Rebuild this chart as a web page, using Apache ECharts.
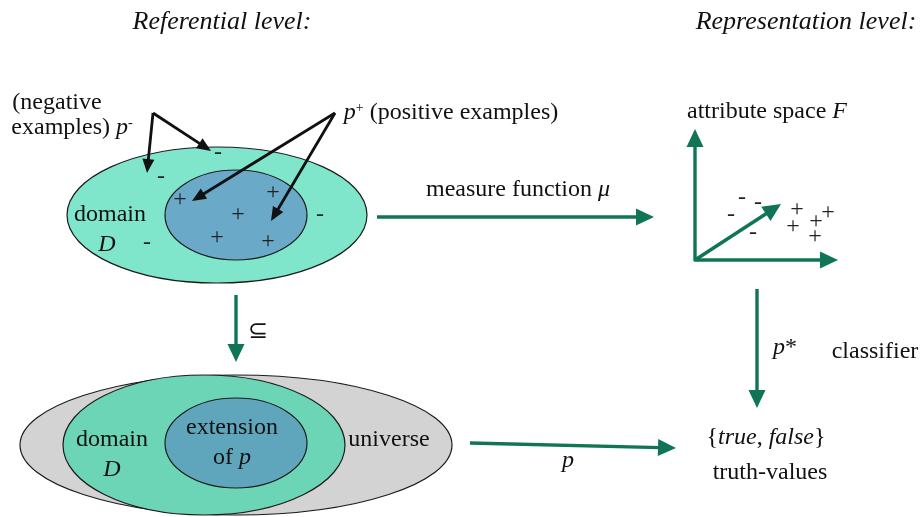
<!DOCTYPE html>
<html>
<head>
<meta charset="utf-8">
<script src="https://cdn.jsdelivr.net/npm/echarts@6/dist/echarts.min.js"></script>
<style>html,body{margin:0;padding:0;background:#fff}#c{width:924px;height:517px}</style>
</head>
<body>
<div id="c"></div>
<script>
// Ellipses: [cx, cy, rx, ry] in diagram units
const ellipses = [
  [217, 215, 150, 68],  // domain D (top)
  [236, 215, 71, 45],   // positive examples (top)
  [236, 445, 216, 70],  // universe
  [204, 445, 141, 70],  // domain D (bottom)
  [236, 443, 71, 45]    // extension of p
];
const ellipseColors = ['#80e6cb', '#6aaac8', '#d3d3d3', '#6cd5b5', '#5fa6bc'];

// Arrows: [x1, y1, x2, y2]
const greenArrows = [
  [377, 217, 654, 217],
  [236, 295, 236, 362],
  [470, 443, 676, 448],
  [757, 289, 757, 408],
  [695, 261, 695, 129],
  [694, 260, 838, 260],
  [695, 260, 781, 204]
];
const blackArrows = [
  [153, 113, 147, 173],
  [153, 113, 211, 151],
  [335, 113, 192, 201],
  [335, 113, 271, 221]
];

// Signs: [x, y, symbol]
const signs = [
  [218, 153, '-'], [161, 177, '-'], [320, 215, '-'], [147, 243, '-'],
  [180, 200, '+'], [273, 193, '+'], [238, 215, '+'], [217, 238, '+'], [268, 242, '+'],
  [742, 198, '-'], [758, 203, '-'], [731, 215, '-'], [753, 233, '-'],
  [797, 210, '+'], [793, 227, '+'], [816, 222, '+'], [828, 213, '+'], [815, 237, '+']
];

// Titles: [x, y, text]
const titles = [
  [222, 22, 'Referential level:'],
  [806, 22, 'Representation level:']
];

// Labels: [x, y, text]
const labels = [
  [57, 103, '(negative'],
  [72, 128, 'examples) {i|p}{sup|-}'],
  [451, 113, '{i|p}{sup|+} (positive examples)'],
  [110, 215, 'domain'],
  [107, 245, '{i|D}'],
  [518, 190, 'measure function {i|μ}'],
  [767, 112, 'attribute space {i|F}'],
  [258, 332, '⊆'],
  [112, 440, 'domain'],
  [112, 470, '{i|D}'],
  [232, 428, 'extension'],
  [232, 458, 'of {i|p}'],
  [389, 440, 'universe'],
  [568, 461, '{i|p}'],
  [785, 348, '{i|p}*'],
  [875, 352, 'classifier'],
  [766, 438, '{{i|true}, {i|false}}'],
  [770, 473, 'truth-values']
];

const FONT = '"Liberation Serif", "Times New Roman", serif';
const chart = echarts.init(document.getElementById('c'));

function arrowRender(color, lw, headL, headW) {
  return function (params, api) {
    const p1 = api.coord([api.value(0), api.value(1)]);
    const p2 = api.coord([api.value(2), api.value(3)]);
    const dx = p2[0] - p1[0], dy = p2[1] - p1[1];
    const len = Math.sqrt(dx * dx + dy * dy);
    const ux = dx / len, uy = dy / len;
    const bx = p2[0] - ux * headL, by = p2[1] - uy * headL;
    const nx = -uy, ny = ux;
    return {
      type: 'group',
      children: [
        { type: 'line', shape: { x1: p1[0], y1: p1[1], x2: bx + ux * 2, y2: by + uy * 2 },
          style: { stroke: color, lineWidth: lw } },
        { type: 'polygon', shape: { points: [[p2[0], p2[1]], [bx + nx * headW, by + ny * headW], [bx - nx * headW, by - ny * headW]] },
          style: { fill: color } }
      ]
    };
  };
}

const textData = {
  titles: titles.map(d => d[2]),
  labels: labels.map(d => d[2]),
  signs: signs.map(d => d[2])
};

function textRender(size, style, color) {
  return function (params, api) {
    const p = api.coord([api.value(0), api.value(1)]);
    return {
      type: 'text', x: p[0], y: p[1],
      style: {
        text: textData[params.seriesName][params.dataIndex],
        fontFamily: FONT, fontSize: size, fontStyle: style, fill: color,
        align: 'center', verticalAlign: 'middle',
        rich: {
          i: { fontFamily: FONT, fontSize: size, fontStyle: 'italic', fill: color },
          sup: { fontFamily: FONT, fontSize: Math.round(size * 0.6), fill: color, verticalAlign: 'top', padding: [0, 0, 10, 0] }
        }
      }
    };
  };
}

chart.setOption({
  animation: false,
  grid: { left: 0, right: 0, top: 0, bottom: 0 },
  xAxis: { type: 'value', min: 0, max: 924, show: false },
  yAxis: { type: 'value', min: 0, max: 517, inverse: true, show: false },
  series: [
    {
      type: 'custom', name: 'ellipses', clip: false,
      data: ellipses,
      renderItem: function (params, api) {
        const c = api.coord([api.value(0), api.value(1)]);
        const s = api.size([api.value(2), api.value(3)]);
        return { type: 'ellipse', shape: { cx: c[0], cy: c[1], rx: s[0], ry: s[1] },
          style: { fill: ellipseColors[params.dataIndex], stroke: '#1c1c1c', lineWidth: 1.2 } };
      }
    },
    { type: 'custom', name: 'signs', clip: false, data: signs.map(d => [d[0], d[1]]), renderItem: textRender(24, 'normal', '#222') },
    { type: 'custom', name: 'titles', clip: false, data: titles.map(d => [d[0], d[1]]), renderItem: textRender(26, 'italic', '#111') },
    { type: 'custom', name: 'labels', clip: false, data: labels.map(d => [d[0], d[1]]), renderItem: textRender(24, 'normal', '#111') },
    { type: 'custom', name: 'green', clip: false, data: greenArrows, renderItem: arrowRender('#107456', 3.4, 18, 8.5) },
    { type: 'custom', name: 'black', clip: false, data: blackArrows, renderItem: arrowRender('#111111', 2.8, 14, 6) }
  ]
});
</script>
</body>
</html>
